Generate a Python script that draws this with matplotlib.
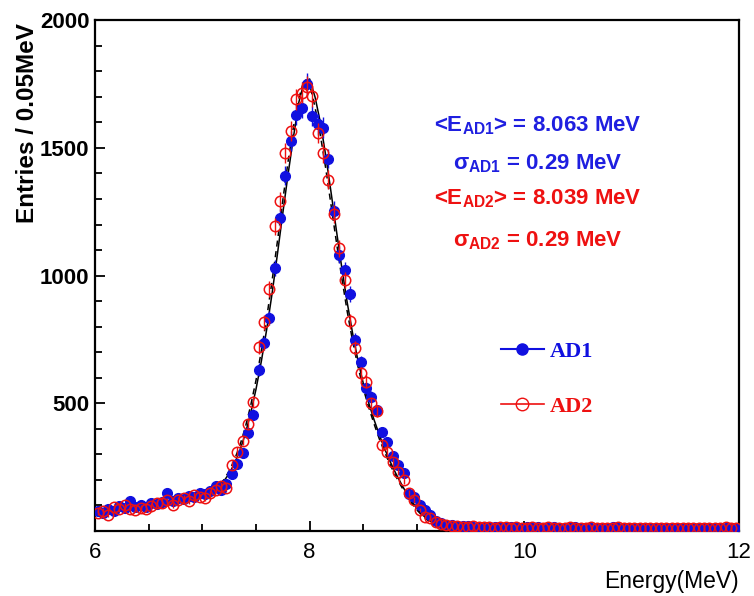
import numpy as np
import matplotlib
matplotlib.use("Agg")
import matplotlib.pyplot as plt
from matplotlib.lines import Line2D
from matplotlib.ticker import MultipleLocator

# bins of 0.05 MeV from 6 to 12 MeV
bin_centers = np.round(np.arange(6.025, 12.0, 0.05), 3)

ad1_counts = [
    78, 70, 88, 80, 98, 92, 118, 96, 102, 95,
    108, 104, 112, 148, 118, 130, 125, 138, 132, 150,
    145, 158, 175, 160, 185, 223, 262, 307, 385, 455,
    631, 736, 834, 1030, 1226, 1392, 1527, 1630, 1657, 1750,
    1625, 1592, 1580, 1458, 1255, 1082, 1021, 929, 749, 660,
    560, 524, 472, 389, 350, 294, 259, 226, 145, 135,
    102, 82, 63, 40, 30, 25,
    22, 20, 18, 19, 16, 17, 15, 14, 16, 15,
    13, 15, 14, 12, 14, 13, 15, 12, 13, 14,
    12, 13, 11, 14, 12, 13, 12, 11, 13, 12,
    14, 11, 12, 13, 11, 12, 10, 12, 11, 13,
    12, 10, 11, 12, 10, 11, 13, 10, 11, 12,
    10, 11, 12, 10,
]

ad2_counts = [
    72, 80, 62, 95, 85, 100, 88, 82, 92, 85,
    98, 110, 108, 120, 100, 122, 128, 118, 140, 135,
    130, 150, 160, 178, 170, 259, 311, 354, 420, 507,
    720, 817, 948, 1193, 1291, 1481, 1566, 1690, 1716, 1740,
    1703, 1560, 1481, 1376, 1240, 1108, 984, 821, 716, 618,
    585, 500, 470, 337, 311, 270, 233, 200, 150, 122,
    82, 56, 50, 36, 28, 22,
    20, 19, 17, 16, 18, 15, 16, 14, 13, 15,
    14, 12, 15, 13, 12, 14, 11, 13, 15, 12,
    13, 12, 14, 11, 13, 12, 15, 11, 12, 13,
    11, 14, 12, 10, 13, 11, 12, 13, 10, 12,
    11, 13, 10, 12, 11, 10, 12, 11, 13, 10,
    12, 14, 11, 12,
]

# fitted curves
fit_energy = np.round(np.arange(7.0, 9.6001, 0.05), 2)
fit_ad1 = [
    145, 152, 162, 175, 195, 225, 265, 315, 380, 460,
    555, 665, 790, 930, 1085, 1245, 1400, 1545, 1680, 1760,
    1770, 1700, 1600, 1470, 1325, 1175, 1030, 895, 775, 668,
    578, 502, 436, 376, 321, 272, 228, 188, 150, 117,
    88, 64, 45, 32, 24, 19, 16, 15, 14, 14,
    13, 13, 13,
]
fit_ad2 = [
    140, 150, 160, 178, 200, 235, 280, 335, 405, 490,
    590, 705, 835, 980, 1135, 1295, 1450, 1585, 1695, 1770,
    1750, 1660, 1550, 1420, 1275, 1130, 990, 860, 745, 645,
    558, 485, 420, 360, 308, 260, 217, 178, 142, 110,
    82, 60, 43, 31, 23, 18, 16, 15, 14, 13,
    13, 13, 12,
]

stat_lines = [
    (r"<E$_{\mathregular{AD1}}$> = 8.063 MeV", "#1f1fe0"),
    (r"σ$_{\mathregular{AD1}}$ = 0.29 MeV", "#1f1fe0"),
    (r"<E$_{\mathregular{AD2}}$> = 8.039 MeV", "#ee1111"),
    (r"σ$_{\mathregular{AD2}}$ = 0.29 MeV", "#ee1111"),
]

blue = "#1010e0"
red = "#ee1111"

plt.rcParams["font.family"] = ["Liberation Sans", "DejaVu Sans"]
plt.rcParams["mathtext.fontset"] = "custom"
plt.rcParams["mathtext.rm"] = "Liberation Sans:bold"

fig = plt.figure(figsize=(7.54, 5.96), dpi=100)
ax = fig.add_axes([0.126, 0.109, 0.854, 0.857])

ax.plot(fit_energy, fit_ad1, color="black", lw=1.1, zorder=2)
ax.plot(fit_energy, fit_ad2, color="black", lw=1.1, ls=(0, (4, 3)), zorder=2)

ad1 = np.array(ad1_counts)
ad2 = np.array(ad2_counts)
ax.errorbar(bin_centers, ad1, yerr=np.sqrt(ad1), fmt="o", color=blue,
            ms=7, elinewidth=1, capsize=0, zorder=3)
ax.errorbar(bin_centers, ad2, yerr=np.sqrt(ad2), fmt="o", color=red,
            mfc="none", mec=red, mew=1.1, ms=7.5, elinewidth=1, capsize=0, zorder=4)

ax.set_xlim(6, 12)
ax.set_ylim(0, 2000)
ax.set_yticks([500, 1000, 1500, 2000])
ax.xaxis.set_major_locator(MultipleLocator(2))
ax.xaxis.set_minor_locator(MultipleLocator(0.5))
ax.yaxis.set_minor_locator(MultipleLocator(100))
ax.tick_params(which="both", direction="in", width=1.3)
ax.tick_params(which="major", length=7, labelsize=16)
ax.tick_params(which="minor", length=5)
ax.tick_params(axis="y", right=False, pad=4)
ax.tick_params(axis="x", top=False, pad=8)
for lab in ax.get_yticklabels():
    lab.set_fontweight("bold")
for sp in ax.spines.values():
    sp.set_linewidth(1.6)

fig.text(0.037, 0.962, "Entries / 0.05MeV", rotation=90, ha="center", va="top",
         fontsize=17.5, fontweight="bold")
fig.text(0.980, 0.005, "Energy(MeV)", ha="right", va="bottom", fontsize=16.5)

ys = [0.793, 0.720, 0.650, 0.568]
for (txt, col), yy in zip(stat_lines, ys):
    ax.text(0.688, yy, txt, transform=ax.transAxes, ha="center", va="center",
            color=col, fontsize=16, fontweight="bold")

handles = [
    Line2D([], [], color=blue, marker="o", ms=8, lw=1.5),
    Line2D([], [], color=red, marker="o", mfc="none", ms=9, lw=1.2),
]
leg = ax.legend(handles, ["AD1", "AD2"], loc="upper left",
                bbox_to_anchor=(0.60, 0.41), frameon=False, handlelength=1.9,
                labelspacing=1.55, handletextpad=0.3,
                prop={"family": "Liberation Serif", "weight": "bold", "size": 16})
for t, c in zip(leg.get_texts(), [blue, red]):
    t.set_color(c)

fig.savefig("out.png", dpi=100)
